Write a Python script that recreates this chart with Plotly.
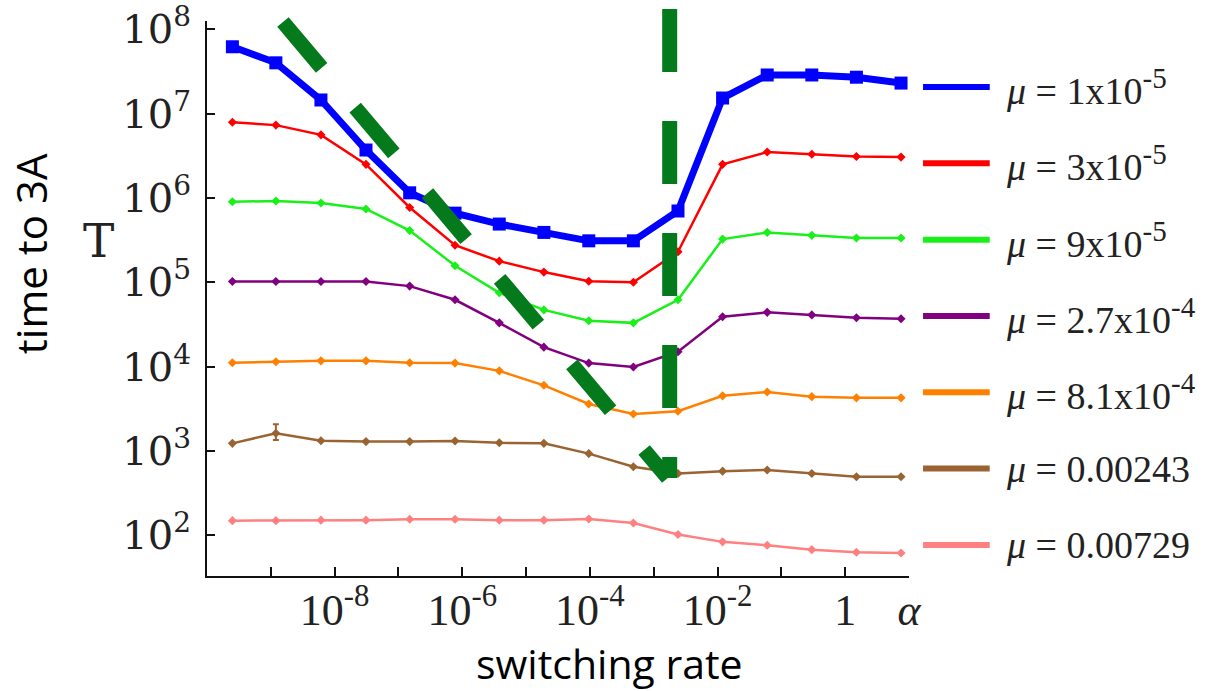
import math
import plotly.graph_objects as go

# ---------------- data ----------------
alpha = [2.5e-10, 1.2e-9, 6.1e-9, 3.1e-8, 1.5e-7, 7.7e-7, 3.8e-6, 1.9e-5,
         9.6e-5, 4.8e-4, 2.4e-3, 1.2e-2, 6.0e-2, 0.3, 1.5, 7.5]

T_mu_1e5 = [6.2e7, 4.0e7, 1.45e7, 3.7e6, 1.15e6, 6.6e5, 4.9e5, 3.9e5,
            3.1e5, 3.1e5, 7.0e5, 1.53e7, 2.87e7, 2.87e7, 2.7e7, 2.3e7]
T_mu_3e5 = [7.9e6, 7.3e6, 5.6e6, 2.5e6, 7.7e5, 2.75e5, 1.78e5, 1.32e5,
            1.03e5, 1.0e5, 2.3e5, 2.5e6, 3.5e6, 3.3e6, 3.1e6, 3.05e6]
T_mu_9e5 = [9.0e5, 9.2e5, 8.7e5, 7.4e5, 4.1e5, 1.57e5, 7.5e4, 4.7e4,
            3.5e4, 3.3e4, 6.2e4, 3.25e5, 3.9e5, 3.6e5, 3.35e5, 3.35e5]
T_mu_27e4 = [1.02e5, 1.02e5, 1.02e5, 1.02e5, 9.0e4, 6.2e4, 3.3e4, 1.7e4,
             1.1e4, 9.9e3, 1.5e4, 3.9e4, 4.4e4, 4.1e4, 3.8e4, 3.7e4]
T_mu_81e4 = [1.11e4, 1.14e4, 1.17e4, 1.17e4, 1.11e4, 1.1e4, 8.9e3, 6.0e3,
             3.6e3, 2.74e3, 2.96e3, 4.5e3, 5.0e3, 4.4e3, 4.26e3, 4.26e3]
T_mu_00243 = [1.23e3, 1.62e3, 1.32e3, 1.29e3, 1.29e3, 1.31e3, 1.25e3, 1.23e3,
              9.3e2, 6.5e2, 5.4e2, 5.76e2, 5.95e2, 5.4e2, 4.95e2, 4.95e2]
T_mu_00729 = [149, 149, 151, 151, 155, 155, 151, 151,
              156, 140, 102, 83.5, 76, 67.5, 63, 61.5]

# error bar on the mu = 0.00243 series (only the 2nd point has one)
err_plus_00243 = [None, 450, None, None, None, None, None, None,
                  None, None, None, None, None, None, None, None]
err_minus_00243 = [None, 270, None, None, None, None, None, None,
                   None, None, None, None, None, None, None, None]

SUP = "<sup><span style='font-size:29px'>%s</span></sup>"
series_labels = ["<i>μ</i> = 1x10" + SUP % "-5", "<i>μ</i> = 3x10" + SUP % "-5",
                 "<i>μ</i> = 9x10" + SUP % "-5", "<i>μ</i> = 2.7x10" + SUP % "-4",
                 "<i>μ</i> = 8.1x10" + SUP % "-4", "<i>μ</i> = 0.00243",
                 "<i>μ</i> = 0.00729"]
series_values = [T_mu_1e5, T_mu_3e5, T_mu_9e5, T_mu_27e4, T_mu_81e4, T_mu_00243, T_mu_00729]

x_tick_vals = [1e-9, 1e-8, 1e-7, 1e-6, 1e-5, 1e-4, 1e-3, 1e-2, 1e-1, 1, 10]
x_tick_text = ["", "10<sup>-8</sup>", "", "10<sup>-6</sup>", "", "10<sup>-4</sup>", "",
               "10<sup>-2</sup>", "", "1", "<i>α</i>"]
y_tick_vals = [1e2, 1e3, 1e4, 1e5, 1e6, 1e7, 1e8]
y_tick_text = ["10<sup>2</sup>", "10<sup>3</sup>", "10<sup>4</sup>", "10<sup>5</sup>",
               "10<sup>6</sup>", "10<sup>7</sup>", "10<sup>8</sup>"]

# guide lines (annotation): in data units (alpha, T)
diag_alpha = [10 ** -8.81, 10 ** -2.78]
diag_T = [10 ** 8.086, 10 ** 2.679]
vert_alpha = [10 ** -2.75, 10 ** -2.75]
vert_T = [10 ** 8.24, 10 ** 2.679]

# ---------------- styles ----------------
colors = ["#0000ff", "#ff0000", "#19f019", "#800080", "#ff8000", "#9a6432", "#ff8080"]
widths = [7, 2.5, 2.5, 2.5, 2.5, 2.5, 2.5]
symbols = ["square", "diamond", "diamond", "diamond", "diamond", "diamond", "diamond"]
msizes = [13, 7, 7, 7, 7, 7, 7]
guide_color = "#057a1c"

X_RANGE = [-10, 1]
Y_RANGE = [1.517, 8.098]


def px_(a):
    return (math.log10(a) - X_RANGE[0]) / (X_RANGE[1] - X_RANGE[0])


def py_(t):
    return (math.log10(t) - Y_RANGE[0]) / (Y_RANGE[1] - Y_RANGE[0])


fig = go.Figure()
draw_order = list(range(len(series_values)))[::-1]
for i in draw_order:
    kw = {}
    if i == 5:
        kw["error_y"] = dict(type="data", symmetric=False, array=err_plus_00243,
                             arrayminus=err_minus_00243, color=colors[i],
                             thickness=2, width=3)
    fig.add_trace(go.Scatter(
        x=alpha, y=series_values[i], mode="lines+markers",
        line=dict(color=colors[i], width=widths[i]),
        marker=dict(symbol=symbols[i], size=msizes[i], color=colors[i]),
        name=series_labels[i], showlegend=False, **kw))

dserif = "DejaVu Serif"
lserif = "Liberation Serif"
sans = "Open Sans"

fig.update_xaxes(type="log", range=X_RANGE, tickvals=x_tick_vals, ticktext=x_tick_text,
                 ticks="inside", ticklen=9, tickwidth=2, tickcolor="#111",
                 showline=True, linecolor="#111", linewidth=2, showgrid=False,
                 zeroline=False, tickfont=dict(family=lserif, size=44, color="#222"),
                 ticklabelstandoff=-6, automargin=False, ticklabeloverflow="allow")
fig.update_yaxes(type="log", range=Y_RANGE, tickvals=y_tick_vals, ticktext=y_tick_text,
                 ticks="inside", ticklen=8, tickwidth=2, tickcolor="#111",
                 showline=True, linecolor="#111", linewidth=2, showgrid=False,
                 zeroline=False, tickfont=dict(family=dserif, size=40, color="#222"),
                 ticklabelstandoff=6, automargin=False, ticklabeloverflow="allow")

shapes = []
# guide dashed lines
shapes.append(dict(type="line", xref="paper", yref="paper",
                   x0=px_(diag_alpha[0]), y0=py_(diag_T[0]),
                   x1=px_(diag_alpha[1]), y1=py_(diag_T[1]),
                   line=dict(color=guide_color, width=15, dash="60px,52px"), layer="above"))
shapes.append(dict(type="line", xref="paper", yref="paper",
                   x0=px_(vert_alpha[0]), y0=py_(vert_T[0]),
                   x1=px_(vert_alpha[1]), y1=py_(vert_T[1]),
                   line=dict(color=guide_color, width=15, dash="63px,49px"), layer="above"))

annotations = []
# manual legend
leg_top = 0.881
leg_step = 0.1375
for k, (lab, c) in enumerate(zip(series_labels, colors)):
    yk = leg_top - k * leg_step
    shapes.append(dict(type="line", xref="paper", yref="paper", x0=1.02, x1=1.115,
                       y0=yk, y1=yk, line=dict(color=c, width=6)))
    annotations.append(dict(xref="paper", yref="paper", x=1.136, y=yk, text=lab,
                            showarrow=False, xanchor="left", yanchor="middle",
                            font=dict(family=lserif, size=38, color="#222")))

annotations.append(dict(xref="paper", yref="paper", x=-0.252, y=0.580, text="time to 3A",
                        textangle=-90, showarrow=False, xanchor="center", yanchor="middle",
                        font=dict(family=sans, size=42, color="#000")))
annotations.append(dict(xref="paper", yref="paper", x=-0.155, y=0.605, text="T",
                        showarrow=False, xanchor="center", yanchor="middle",
                        font=dict(family=dserif, size=47, color="#222")))
annotations.append(dict(xref="paper", yref="paper", x=0.573, y=-0.156, text="switching rate",
                        showarrow=False, xanchor="center", yanchor="middle",
                        font=dict(family=sans, size=41, color="#000")))

fig.update_layout(width=1219, height=691,
                  margin=dict(l=207, r=310, t=21, b=115, autoexpand=False),
                  plot_bgcolor="white", paper_bgcolor="white",
                  shapes=shapes, annotations=annotations, showlegend=False)

fig.write_html("out.html")
